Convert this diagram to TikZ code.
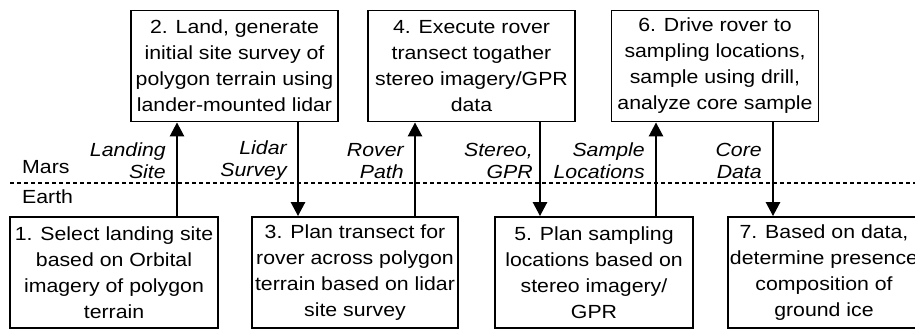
\documentclass[tikz,border=0pt]{standalone}
\usepackage{fontspec}
\setmainfont{Liberation Sans}[FakeStretch=1.12]
\usetikzlibrary{arrows.meta}

\tikzset{
  stepbox/.style={draw, line width=1.8pt, align=center, minimum height=111pt, inner sep=1pt,
    font=\fontsize{19}{26}\selectfont},
  flow/.style={line width=2.6pt, -{Triangle[width=14pt,length=14pt]}},
  lbl/.style={font=\fontsize{19}{22}\selectfont\itshape, align=right, anchor=east, inner sep=0pt, xshift=-10pt},
  divider/.style={line width=2pt, dash pattern=on 4pt off 3pt},
  planet/.style={anchor=base west, inner sep=0pt, font=\fontsize{19}{22}\selectfont}
}

\begin{document}
\begin{tikzpicture}[x=1pt, y=-1pt]
        \useasboundingbox (0,0) rectangle (915,329);

        \node[stepbox, minimum width=208pt] (b1) at (114,272.5) {1. Select landing site\\based on Orbital\\imagery of polygon\\terrain};
        \node[stepbox, minimum width=207pt] (b2) at (234.5,66) {2. Land, generate\\initial site survey of\\polygon terrain using\\lander-mounted lidar};
        \node[stepbox, minimum width=206pt] (b3) at (355,272.5) {3. Plan transect for\\rover across polygon\\terrain based on lidar\\site survey};
        \node[stepbox, minimum width=207pt] (b4) at (471.5,66) {4. Execute rover\\transect togather\\stereo imagery/GPR\\data};
        \node[stepbox, minimum width=198pt] (b5) at (594,272.5) {5. Plan sampling\\locations based on\\stereo imagery/\\GPR};
        \node[stepbox, minimum width=207pt] (b6) at (715,66) {6. Drive rover to\\sampling locations,\\sample using drill,\\analyze core sample};
        \node[stepbox, minimum width=192pt] (b7) at (824,272.5) {7. Based on data,\\determine presence\\composition of\\ground ice};

        \coordinate (divL) at (10,183);
        \coordinate (divR) at (915,183);
        \draw[divider] (divL) -- (divR);
        \node[planet] (mars) at (22,173) {Mars};
        \node[planet] (earth) at (22,203) {Earth};

        \draw[flow] (177,0 |- b1.north) -- node[lbl, pos=0.59] (l1) {Landing\\Site} (177,0 |- b2.south);
        \draw[flow] (298,0 |- b2.south) -- node[lbl, pos=0.41] (l2) {Lidar\\Survey} (298,0 |- b3.north);
        \draw[flow] (415,0 |- b3.north) -- node[lbl, pos=0.59] (l3) {Rover\\Path} (415,0 |- b4.south);
        \draw[flow] (540,0 |- b4.south) -- node[lbl, pos=0.41, xshift=4pt] (l4) {Stereo,\\GPR} (540,0 |- b5.north);
        \draw[flow] (656,0 |- b5.north) -- node[lbl, pos=0.59] (l5) {Sample\\Locations} (656,0 |- b6.south);
        \draw[flow] (773,0 |- b6.south) -- node[lbl, pos=0.41] (l6) {Core\\Data} (773,0 |- b7.north);
        % \draw[flow] (b7.north) -- (b6.south);
\end{tikzpicture}
\end{document}
